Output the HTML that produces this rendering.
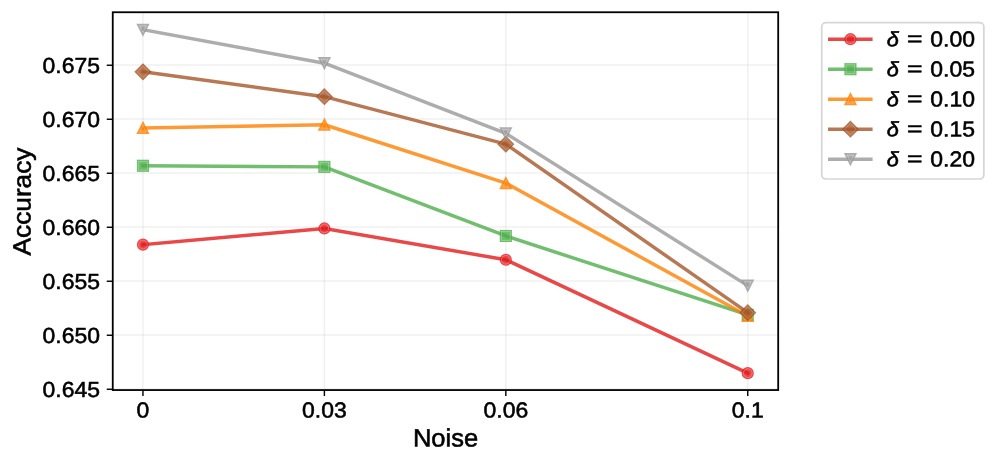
<!DOCTYPE html>
<html lang="en"><head><meta charset="utf-8"><title>Accuracy vs Noise</title>
<style>
html,body{margin:0;padding:0;background:#fff;}
body{width:996px;height:464px;overflow:hidden;font-family:"Liberation Sans",sans-serif;}
svg{display:block;will-change:transform;}
text{font-family:"Liberation Sans",sans-serif;fill:#000;stroke:#000;stroke-width:0.55px;}
</style></head><body>
<svg width="996" height="464" viewBox="0 0 996 464">
<rect x="0" y="0" width="996" height="464" fill="#ffffff"/>
<g stroke="#b0b0b0" stroke-opacity="0.185" stroke-width="1.45" fill="none">
<line x1="142.95" y1="12.25" x2="142.95" y2="390.05"/>
<line x1="324.39" y1="12.25" x2="324.39" y2="390.05"/>
<line x1="505.83" y1="12.25" x2="505.83" y2="390.05"/>
<line x1="747.75" y1="12.25" x2="747.75" y2="390.05"/>
<line x1="112.75" y1="389.05" x2="778.2" y2="389.05"/>
<line x1="112.75" y1="335.05" x2="778.2" y2="335.05"/>
<line x1="112.75" y1="281.05" x2="778.2" y2="281.05"/>
<line x1="112.75" y1="227.05" x2="778.2" y2="227.05"/>
<line x1="112.75" y1="173.05" x2="778.2" y2="173.05"/>
<line x1="112.75" y1="119.05" x2="778.2" y2="119.05"/>
<line x1="112.75" y1="65.05" x2="778.2" y2="65.05"/>
</g>
<g stroke="#000" stroke-width="1.42" fill="none">
<line x1="142.95" y1="390.05" x2="142.95" y2="396.05"/>
<line x1="324.39" y1="390.05" x2="324.39" y2="396.05"/>
<line x1="505.83" y1="390.05" x2="505.83" y2="396.05"/>
<line x1="747.75" y1="390.05" x2="747.75" y2="396.05"/>
<line x1="112.75" y1="389.25" x2="106.75" y2="389.25"/>
<line x1="112.75" y1="335.25" x2="106.75" y2="335.25"/>
<line x1="112.75" y1="281.25" x2="106.75" y2="281.25"/>
<line x1="112.75" y1="227.25" x2="106.75" y2="227.25"/>
<line x1="112.75" y1="173.25" x2="106.75" y2="173.25"/>
<line x1="112.75" y1="119.25" x2="106.75" y2="119.25"/>
<line x1="112.75" y1="65.25" x2="106.75" y2="65.25"/>
</g>
<clipPath id="ax"><rect x="112.75" y="12.25" width="665.45" height="377.8"/></clipPath>
<g clip-path="url(#ax)">
<polyline points="142.95,244.63 324.39,228.43 505.83,259.75 747.75,373.15" fill="none" stroke="#e41a1c" stroke-opacity="0.8" stroke-width="3.47" stroke-linejoin="round" stroke-linecap="square"/>
<g opacity="0.8" fill="#e41a1c" stroke="#e41a1c" stroke-width="1.74" stroke-linejoin="miter" stroke-miterlimit="10"><circle cx="142.95" cy="244.63" r="5.21"/></g><g fill="none" stroke="#ffffff" stroke-opacity="0.5" stroke-width="0.55"><circle cx="142.95" cy="244.63" r="4.34"/></g>
<g opacity="0.8" fill="#e41a1c" stroke="#e41a1c" stroke-width="1.74" stroke-linejoin="miter" stroke-miterlimit="10"><circle cx="324.39" cy="228.43" r="5.21"/></g><g fill="none" stroke="#ffffff" stroke-opacity="0.5" stroke-width="0.55"><circle cx="324.39" cy="228.43" r="4.34"/></g>
<g opacity="0.8" fill="#e41a1c" stroke="#e41a1c" stroke-width="1.74" stroke-linejoin="miter" stroke-miterlimit="10"><circle cx="505.83" cy="259.75" r="5.21"/></g><g fill="none" stroke="#ffffff" stroke-opacity="0.5" stroke-width="0.55"><circle cx="505.83" cy="259.75" r="4.34"/></g>
<g opacity="0.8" fill="#e41a1c" stroke="#e41a1c" stroke-width="1.74" stroke-linejoin="miter" stroke-miterlimit="10"><circle cx="747.75" cy="373.15" r="5.21"/></g><g fill="none" stroke="#ffffff" stroke-opacity="0.5" stroke-width="0.55"><circle cx="747.75" cy="373.15" r="4.34"/></g>
<polyline points="142.95,165.79 324.39,166.87 505.83,235.99 747.75,314.83" fill="none" stroke="#4daf4a" stroke-opacity="0.8" stroke-width="3.47" stroke-linejoin="round" stroke-linecap="square"/>
<g opacity="0.8" fill="#4daf4a" stroke="#4daf4a" stroke-width="1.74" stroke-linejoin="miter" stroke-miterlimit="10"><rect x="137.74" y="160.58" width="10.42" height="10.42"/></g><g fill="none" stroke="#ffffff" stroke-opacity="0.45" stroke-width="0.55"><rect x="138.61" y="161.45" width="8.68" height="8.68"/></g>
<g opacity="0.8" fill="#4daf4a" stroke="#4daf4a" stroke-width="1.74" stroke-linejoin="miter" stroke-miterlimit="10"><rect x="319.18" y="161.66" width="10.42" height="10.42"/></g><g fill="none" stroke="#ffffff" stroke-opacity="0.45" stroke-width="0.55"><rect x="320.05" y="162.53" width="8.68" height="8.68"/></g>
<g opacity="0.8" fill="#4daf4a" stroke="#4daf4a" stroke-width="1.74" stroke-linejoin="miter" stroke-miterlimit="10"><rect x="500.62" y="230.78" width="10.42" height="10.42"/></g><g fill="none" stroke="#ffffff" stroke-opacity="0.45" stroke-width="0.55"><rect x="501.49" y="231.65" width="8.68" height="8.68"/></g>
<g opacity="0.8" fill="#4daf4a" stroke="#4daf4a" stroke-width="1.74" stroke-linejoin="miter" stroke-miterlimit="10"><rect x="742.54" y="309.62" width="10.42" height="10.42"/></g><g fill="none" stroke="#ffffff" stroke-opacity="0.45" stroke-width="0.55"><rect x="743.41" y="310.49" width="8.68" height="8.68"/></g>
<polyline points="142.95,127.99 324.39,124.75 505.83,183.07 747.75,315.91" fill="none" stroke="#ff7f00" stroke-opacity="0.8" stroke-width="3.47" stroke-linejoin="round" stroke-linecap="square"/>
<g opacity="0.8" fill="#ff7f00" stroke="#ff7f00" stroke-width="1.74" stroke-linejoin="miter" stroke-miterlimit="10"><path d="M142.95 122.78L137.74 133.20L148.16 133.20Z"/></g><g fill="none" stroke="#ffffff" stroke-opacity="0.35" stroke-width="0.55"><path d="M142.95 125.46L139.68 132.00L146.22 132.00Z"/></g>
<g opacity="0.8" fill="#ff7f00" stroke="#ff7f00" stroke-width="1.74" stroke-linejoin="miter" stroke-miterlimit="10"><path d="M324.39 119.54L319.18 129.96L329.60 129.96Z"/></g><g fill="none" stroke="#ffffff" stroke-opacity="0.35" stroke-width="0.55"><path d="M324.39 122.22L321.12 128.76L327.66 128.76Z"/></g>
<g opacity="0.8" fill="#ff7f00" stroke="#ff7f00" stroke-width="1.74" stroke-linejoin="miter" stroke-miterlimit="10"><path d="M505.83 177.86L500.62 188.28L511.04 188.28Z"/></g><g fill="none" stroke="#ffffff" stroke-opacity="0.35" stroke-width="0.55"><path d="M505.83 180.54L502.56 187.08L509.10 187.08Z"/></g>
<g opacity="0.8" fill="#ff7f00" stroke="#ff7f00" stroke-width="1.74" stroke-linejoin="miter" stroke-miterlimit="10"><path d="M747.75 310.70L742.54 321.12L752.96 321.12Z"/></g><g fill="none" stroke="#ffffff" stroke-opacity="0.35" stroke-width="0.55"><path d="M747.75 313.38L744.48 319.92L751.02 319.92Z"/></g>
<polyline points="142.95,71.83 324.39,96.67 505.83,144.19 747.75,312.67" fill="none" stroke="#a65628" stroke-opacity="0.8" stroke-width="3.47" stroke-linejoin="round" stroke-linecap="square"/>
<g opacity="0.8" fill="#a65628" stroke="#a65628" stroke-width="1.74" stroke-linejoin="miter" stroke-miterlimit="10"><path d="M142.95 64.46L150.32 71.83L142.95 79.20L135.58 71.83Z"/></g><g fill="none" stroke="#ffffff" stroke-opacity="0.4" stroke-width="0.55"><path d="M142.95 66.21L148.57 71.83L142.95 77.45L137.33 71.83Z"/></g>
<g opacity="0.8" fill="#a65628" stroke="#a65628" stroke-width="1.74" stroke-linejoin="miter" stroke-miterlimit="10"><path d="M324.39 89.30L331.76 96.67L324.39 104.04L317.02 96.67Z"/></g><g fill="none" stroke="#ffffff" stroke-opacity="0.4" stroke-width="0.55"><path d="M324.39 91.05L330.01 96.67L324.39 102.29L318.77 96.67Z"/></g>
<g opacity="0.8" fill="#a65628" stroke="#a65628" stroke-width="1.74" stroke-linejoin="miter" stroke-miterlimit="10"><path d="M505.83 136.82L513.20 144.19L505.83 151.56L498.46 144.19Z"/></g><g fill="none" stroke="#ffffff" stroke-opacity="0.4" stroke-width="0.55"><path d="M505.83 138.57L511.45 144.19L505.83 149.81L500.21 144.19Z"/></g>
<g opacity="0.8" fill="#a65628" stroke="#a65628" stroke-width="1.74" stroke-linejoin="miter" stroke-miterlimit="10"><path d="M747.75 305.30L755.12 312.67L747.75 320.04L740.38 312.67Z"/></g><g fill="none" stroke="#ffffff" stroke-opacity="0.4" stroke-width="0.55"><path d="M747.75 307.05L753.37 312.67L747.75 318.29L742.13 312.67Z"/></g>
<polyline points="142.95,29.71 324.39,63.19 505.83,133.39 747.75,285.67" fill="none" stroke="#999999" stroke-opacity="0.8" stroke-width="3.47" stroke-linejoin="round" stroke-linecap="square"/>
<g opacity="0.8" fill="#999999" stroke="#999999" stroke-width="1.74" stroke-linejoin="miter" stroke-miterlimit="10"><path d="M142.95 34.92L137.74 24.50L148.16 24.50Z"/></g><g fill="none" stroke="#ffffff" stroke-opacity="0.55" stroke-width="0.55"><path d="M142.95 32.24L139.68 25.70L146.22 25.70Z"/></g>
<g opacity="0.8" fill="#999999" stroke="#999999" stroke-width="1.74" stroke-linejoin="miter" stroke-miterlimit="10"><path d="M324.39 68.40L319.18 57.98L329.60 57.98Z"/></g><g fill="none" stroke="#ffffff" stroke-opacity="0.55" stroke-width="0.55"><path d="M324.39 65.72L321.12 59.18L327.66 59.18Z"/></g>
<g opacity="0.8" fill="#999999" stroke="#999999" stroke-width="1.74" stroke-linejoin="miter" stroke-miterlimit="10"><path d="M505.83 138.60L500.62 128.18L511.04 128.18Z"/></g><g fill="none" stroke="#ffffff" stroke-opacity="0.55" stroke-width="0.55"><path d="M505.83 135.92L502.56 129.38L509.10 129.38Z"/></g>
<g opacity="0.8" fill="#999999" stroke="#999999" stroke-width="1.74" stroke-linejoin="miter" stroke-miterlimit="10"><path d="M747.75 290.88L742.54 280.46L752.96 280.46Z"/></g><g fill="none" stroke="#ffffff" stroke-opacity="0.55" stroke-width="0.55"><path d="M747.75 288.20L744.48 281.66L751.02 281.66Z"/></g>
</g>
<rect x="112.75" y="12.25" width="665.45" height="377.80" fill="none" stroke="#000" stroke-width="1.8" stroke-linejoin="miter"/>
<text transform="translate(136.58 417.50) rotate(0.03)" font-size="21.7" textLength="12.75" lengthAdjust="spacingAndGlyphs">0</text>
<text transform="translate(302.08 417.50) rotate(0.03)" font-size="21.7" textLength="44.62" lengthAdjust="spacingAndGlyphs">0.03</text>
<text transform="translate(483.52 417.50) rotate(0.03)" font-size="21.7" textLength="44.62" lengthAdjust="spacingAndGlyphs">0.06</text>
<text transform="translate(731.82 417.50) rotate(0.03)" font-size="21.7" textLength="31.87" lengthAdjust="spacingAndGlyphs">0.1</text>
<text transform="translate(42.53 396.95) rotate(0.03)" font-size="21.7" textLength="57.37" lengthAdjust="spacingAndGlyphs">0.645</text>
<text transform="translate(42.53 342.95) rotate(0.03)" font-size="21.7" textLength="57.37" lengthAdjust="spacingAndGlyphs">0.650</text>
<text transform="translate(42.53 288.95) rotate(0.03)" font-size="21.7" textLength="57.37" lengthAdjust="spacingAndGlyphs">0.655</text>
<text transform="translate(42.53 234.95) rotate(0.03)" font-size="21.7" textLength="57.37" lengthAdjust="spacingAndGlyphs">0.660</text>
<text transform="translate(42.53 180.95) rotate(0.03)" font-size="21.7" textLength="57.37" lengthAdjust="spacingAndGlyphs">0.665</text>
<text transform="translate(42.53 126.95) rotate(0.03)" font-size="21.7" textLength="57.37" lengthAdjust="spacingAndGlyphs">0.670</text>
<text transform="translate(42.53 72.95) rotate(0.03)" font-size="21.7" textLength="57.37" lengthAdjust="spacingAndGlyphs">0.675</text>
<text transform="translate(412.90 446.50) rotate(0.03)" font-size="25.1" textLength="65.20" lengthAdjust="spacingAndGlyphs">Noise</text>
<text transform="translate(30.60 255.50) rotate(-89.97)" font-size="25.1" textLength="108.00" lengthAdjust="spacingAndGlyphs">Accuracy</text>
<rect x="821.75" y="22.7" width="162.10" height="156.30" rx="4.2" ry="4.2" fill="#ffffff" fill-opacity="0.8" stroke="#cccccc" stroke-opacity="0.8" stroke-width="1.74"/>
<line x1="829.75" y1="39.20" x2="870.85" y2="39.20" stroke="#e41a1c" stroke-opacity="0.8" stroke-width="3.47" stroke-linecap="square"/>
<g opacity="0.8" fill="#e41a1c" stroke="#e41a1c" stroke-width="1.74" stroke-linejoin="miter" stroke-miterlimit="10"><circle cx="850.45" cy="39.20" r="5.21"/></g><g fill="none" stroke="#ffffff" stroke-opacity="0.5" stroke-width="0.55"><circle cx="850.45" cy="39.20" r="4.34"/></g>
<text transform="translate(886.70 46.20) rotate(0.03)" font-size="20.6" textLength="12.10" lengthAdjust="spacingAndGlyphs" font-style="italic">δ</text>
<text transform="translate(906.90 45.80) rotate(0.03)" font-size="20.8" textLength="15.50" lengthAdjust="spacingAndGlyphs" stroke-width="0.6">=</text>
<text transform="translate(930.30 46.60) rotate(0.03)" font-size="21.7" textLength="44.62" lengthAdjust="spacingAndGlyphs">0.00</text>
<line x1="829.75" y1="69.20" x2="870.85" y2="69.20" stroke="#4daf4a" stroke-opacity="0.8" stroke-width="3.47" stroke-linecap="square"/>
<g opacity="0.8" fill="#4daf4a" stroke="#4daf4a" stroke-width="1.74" stroke-linejoin="miter" stroke-miterlimit="10"><rect x="845.24" y="63.99" width="10.42" height="10.42"/></g><g fill="none" stroke="#ffffff" stroke-opacity="0.45" stroke-width="0.55"><rect x="846.11" y="64.86" width="8.68" height="8.68"/></g>
<text transform="translate(886.70 76.20) rotate(0.03)" font-size="20.6" textLength="12.10" lengthAdjust="spacingAndGlyphs" font-style="italic">δ</text>
<text transform="translate(906.90 75.80) rotate(0.03)" font-size="20.8" textLength="15.50" lengthAdjust="spacingAndGlyphs" stroke-width="0.6">=</text>
<text transform="translate(930.30 76.60) rotate(0.03)" font-size="21.7" textLength="44.62" lengthAdjust="spacingAndGlyphs">0.05</text>
<line x1="829.75" y1="99.20" x2="870.85" y2="99.20" stroke="#ff7f00" stroke-opacity="0.8" stroke-width="3.47" stroke-linecap="square"/>
<g opacity="0.8" fill="#ff7f00" stroke="#ff7f00" stroke-width="1.74" stroke-linejoin="miter" stroke-miterlimit="10"><path d="M850.45 93.99L845.24 104.41L855.66 104.41Z"/></g><g fill="none" stroke="#ffffff" stroke-opacity="0.35" stroke-width="0.55"><path d="M850.45 96.67L847.18 103.21L853.72 103.21Z"/></g>
<text transform="translate(886.70 106.20) rotate(0.03)" font-size="20.6" textLength="12.10" lengthAdjust="spacingAndGlyphs" font-style="italic">δ</text>
<text transform="translate(906.90 105.80) rotate(0.03)" font-size="20.8" textLength="15.50" lengthAdjust="spacingAndGlyphs" stroke-width="0.6">=</text>
<text transform="translate(930.30 106.60) rotate(0.03)" font-size="21.7" textLength="44.62" lengthAdjust="spacingAndGlyphs">0.10</text>
<line x1="829.75" y1="129.20" x2="870.85" y2="129.20" stroke="#a65628" stroke-opacity="0.8" stroke-width="3.47" stroke-linecap="square"/>
<g opacity="0.8" fill="#a65628" stroke="#a65628" stroke-width="1.74" stroke-linejoin="miter" stroke-miterlimit="10"><path d="M850.45 121.83L857.82 129.20L850.45 136.57L843.08 129.20Z"/></g><g fill="none" stroke="#ffffff" stroke-opacity="0.4" stroke-width="0.55"><path d="M850.45 123.58L856.07 129.20L850.45 134.82L844.83 129.20Z"/></g>
<text transform="translate(886.70 136.20) rotate(0.03)" font-size="20.6" textLength="12.10" lengthAdjust="spacingAndGlyphs" font-style="italic">δ</text>
<text transform="translate(906.90 135.80) rotate(0.03)" font-size="20.8" textLength="15.50" lengthAdjust="spacingAndGlyphs" stroke-width="0.6">=</text>
<text transform="translate(930.30 136.60) rotate(0.03)" font-size="21.7" textLength="44.62" lengthAdjust="spacingAndGlyphs">0.15</text>
<line x1="829.75" y1="159.20" x2="870.85" y2="159.20" stroke="#999999" stroke-opacity="0.8" stroke-width="3.47" stroke-linecap="square"/>
<g opacity="0.8" fill="#999999" stroke="#999999" stroke-width="1.74" stroke-linejoin="miter" stroke-miterlimit="10"><path d="M850.45 164.41L845.24 153.99L855.66 153.99Z"/></g><g fill="none" stroke="#ffffff" stroke-opacity="0.55" stroke-width="0.55"><path d="M850.45 161.73L847.18 155.19L853.72 155.19Z"/></g>
<text transform="translate(886.70 166.20) rotate(0.03)" font-size="20.6" textLength="12.10" lengthAdjust="spacingAndGlyphs" font-style="italic">δ</text>
<text transform="translate(906.90 165.80) rotate(0.03)" font-size="20.8" textLength="15.50" lengthAdjust="spacingAndGlyphs" stroke-width="0.6">=</text>
<text transform="translate(930.30 166.60) rotate(0.03)" font-size="21.7" textLength="44.62" lengthAdjust="spacingAndGlyphs">0.20</text>
</svg>
</body></html>
